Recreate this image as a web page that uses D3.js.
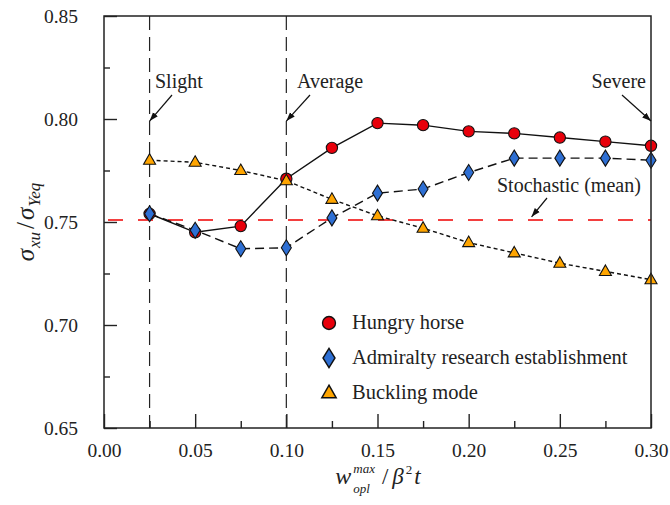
<!DOCTYPE html>
<html>
<head>
<meta charset="utf-8">
<script src="https://cdn.jsdelivr.net/npm/d3@7/dist/d3.min.js"></script>
<style>
  body { margin: 0; background: #fff; }
  svg { display: block; }
  text { font-family: "Liberation Serif", "Times New Roman", serif; fill: #222; }
</style>
</head>
<body>
<script>
// x values (w_opl max / beta^2 t)
const xValues = [0.025, 0.05, 0.075, 0.10, 0.125, 0.15, 0.175, 0.20, 0.225, 0.25, 0.275, 0.30];

// series
const hungryHorse = [0.754, 0.745, 0.748, 0.771, 0.786, 0.798, 0.797, 0.794, 0.793, 0.791, 0.789, 0.787];
const admiralty = [0.754, 0.746, 0.737, 0.7375, 0.752, 0.764, 0.766, 0.774, 0.781, 0.781, 0.781, 0.780];
const buckling = [0.780, 0.779, 0.775, 0.770, 0.761, 0.753, 0.747, 0.740, 0.735, 0.730, 0.726, 0.722];

const stochasticMean = 0.751;
const severityLines = [0.025, 0.10];

const xTicks = [0, 0.05, 0.10, 0.15, 0.20, 0.25, 0.30];
const xMinorTicks = [0.025, 0.075, 0.125, 0.175, 0.225, 0.275];
const yTicks = [0.65, 0.70, 0.75, 0.80, 0.85];
const yMinorTicks = [0.675, 0.725, 0.775, 0.825];

const legendLabels = ["Hungry horse", "Admiralty research establishment", "Buckling mode"];

const FONT = "Liberation Serif, Times New Roman, serif";

// layout
const W = 670, H = 505;
const margin = { top: 16, right: 19, bottom: 77, left: 104 };
const width = W - margin.left - margin.right;
const height = H - margin.top - margin.bottom;

const svg = d3.select("body").append("svg")
  .attr("width", W)
  .attr("height", H);

const defs = svg.append("defs");
defs.append("marker")
  .attr("id", "arrow")
  .attr("viewBox", "0 0 10 10")
  .attr("refX", 10).attr("refY", 5)
  .attr("markerWidth", 9).attr("markerHeight", 9)
  .attr("markerUnits", "userSpaceOnUse")
  .attr("orient", "auto")
  .append("path")
  .attr("d", "M0,1.5 L10,5 L0,8.5 Z")
  .attr("fill", "#111");

const g = svg.append("g")
  .attr("transform", `translate(${margin.left},${margin.top})`);

const x = d3.scaleLinear().domain([0, 0.3]).range([0, width]);
const y = d3.scaleLinear().domain([0.65, 0.85]).range([height, 0]);

// axes, ticks pointing inward
const xAxis = d3.axisBottom(x).tickValues(xTicks).tickSize(-14).tickPadding(15)
  .tickFormat(d3.format(".2f"));
const xAxisMinor = d3.axisBottom(x).tickValues(xMinorTicks).tickSize(-7).tickFormat("");
const yAxis = d3.axisLeft(y).tickValues(yTicks).tickSize(-13).tickPadding(26)
  .tickFormat(d3.format(".2f"));
const yAxisMinor = d3.axisLeft(y).tickValues(yMinorTicks).tickSize(-6).tickFormat("");

function styleAxis(sel) {
  sel.attr("font-family", FONT);
  sel.select(".domain").remove();
  sel.selectAll(".tick line").attr("stroke", "#222").attr("stroke-width", 1.4);
  sel.selectAll(".tick text")
    .attr("font-size", 19.5)
    .style("font-family", FONT)
    .attr("fill", "#222");
}

g.append("g").attr("transform", `translate(0,${height})`).call(xAxis).call(styleAxis);
g.append("g").attr("transform", `translate(0,${height})`).call(xAxisMinor).call(styleAxis);
g.append("g").call(yAxis).call(styleAxis);
g.append("g").call(yAxisMinor).call(styleAxis);

// severity markers (vertical dashed lines)
g.selectAll(".sev")
  .data(severityLines)
  .join("line")
  .attr("x1", d => x(d)).attr("x2", d => x(d))
  .attr("y1", 0).attr("y2", height)
  .attr("stroke", "#222")
  .attr("stroke-width", 1.2)
  .attr("stroke-dasharray", "14,7");

// stochastic mean
g.append("line")
  .attr("x1", 0).attr("x2", width)
  .attr("y1", y(stochasticMean)).attr("y2", y(stochasticMean))
  .attr("stroke", "#f00000")
  .attr("stroke-width", 1.4)
  .attr("stroke-dasharray", "15,15")
  .attr("stroke-dashoffset", -4);

const series = [
  { name: legendLabels[0], values: hungryHorse, color: "#e8000b", dash: null, shape: "circle" },
  { name: legendLabels[1], values: admiralty, color: "#2e6fd3", dash: "9,5", shape: "diamond" },
  { name: legendLabels[2], values: buckling, color: "#ffa500", dash: "4,3", shape: "triangle" }
];

const line = d3.line().x(d => x(d[0])).y(d => y(d[1]));

series.forEach(s => {
  g.append("path")
    .datum(xValues.map((v, i) => [v, s.values[i]]))
    .attr("d", line)
    .attr("fill", "none")
    .attr("stroke", "#111")
    .attr("stroke-width", 1.4)
    .attr("stroke-dasharray", s.dash);
});

// marker shapes
function shapePath(shape) {
  if (shape === "circle") return d3.symbol(d3.symbolCircle, 100)();
  if (shape === "diamond") return "M0,-8 L5,0 L0,8 L-5,0 Z";
  return "M0,-6.5 L6,4 L-6,4 Z";
}

series.forEach(s => {
  g.selectAll(null)
    .data(xValues.map((v, i) => [v, s.values[i]]))
    .join("path")
    .attr("transform", d => `translate(${x(d[0])},${y(d[1])})`)
    .attr("d", shapePath(s.shape))
    .attr("fill", s.color)
    .attr("stroke", "#111")
    .attr("stroke-width", 1.1);
});

// frame
g.append("rect")
  .attr("width", width).attr("height", height)
  .attr("fill", "none")
  .attr("stroke", "#222")
  .attr("stroke-width", 1.5);

// annotations: text position in px, arrow from -> tip (tip in data units)
const annotations = [
  { text: "Slight", tx: 155, ty: 88, anchor: "start", from: [172, 95], tip: [0.025, 0.799] },
  { text: "Average", tx: 297, ty: 88, anchor: "start", from: [310, 95], tip: [0.10, 0.799] },
  { text: "Severe", tx: 646, ty: 88, anchor: "end", from: [622, 95], tip: [0.30, 0.799] },
  { text: "Stochastic (mean)", tx: 497, ty: 192, anchor: "start", from: [547, 198], tip: [0.2345, 0.7525] }
];

annotations.forEach(a => {
  svg.append("text")
    .attr("x", a.tx).attr("y", a.ty)
    .attr("text-anchor", a.anchor)
    .attr("font-size", 20)
    .text(a.text);
  svg.append("line")
    .attr("x1", a.from[0]).attr("y1", a.from[1])
    .attr("x2", x(a.tip[0]) + margin.left).attr("y2", y(a.tip[1]) + margin.top)
    .attr("stroke", "#111")
    .attr("stroke-width", 1.2)
    .attr("marker-end", "url(#arrow)");
});

// legend
const legend = svg.append("g").attr("transform", "translate(329,323)");
series.forEach((s, i) => {
  const row = legend.append("g").attr("transform", `translate(0,${i * 35})`);
  row.append("path")
    .attr("d", shapePath(s.shape))
    .attr("transform", s.shape === "circle" ? "scale(1.15)" : "scale(1.2)")
    .attr("fill", s.color)
    .attr("stroke", "#111")
    .attr("stroke-width", 1.2);
  row.append("text")
    .attr("x", 23).attr("y", 6)
    .attr("font-size", 20.5)
    .text(s.name);
});

// x axis title: w_opl^max / beta^2 t, pieces placed one after another
const xTitle = svg.append("g");
function piece(parent, txt, px, py, size, italic) {
  return parent.append("text")
    .attr("x", px).attr("y", py)
    .attr("font-size", size)
    .attr("font-style", italic ? "italic" : "normal")
    .text(txt);
}
let cx = 0;
const base = 484;
const wEl = piece(xTitle, "w", cx, base, 24, true);
cx += wEl.node().getComputedTextLength() + 2;
const supEl = piece(xTitle, "max", cx, base - 11, 13, true);
const subEl = piece(xTitle, "opl", cx, base + 9, 13, true);
cx += Math.max(supEl.node().getComputedTextLength(), subEl.node().getComputedTextLength()) + 7;
const slEl = piece(xTitle, "/", cx, base, 23, false);
cx += slEl.node().getComputedTextLength() + 4;
const bEl = piece(xTitle, "β", cx, base, 23, true);
cx += bEl.node().getComputedTextLength() + 2;
const twoEl = piece(xTitle, "2", cx, base - 10, 13, false);
cx += twoEl.node().getComputedTextLength() + 2;
const tEl = piece(xTitle, "t", cx, base, 23, true);
cx += tEl.node().getComputedTextLength();
xTitle.attr("transform", `translate(${378 - cx / 2},0)`);

// y axis title: sigma_xu / sigma_Yeq
const yTitle = svg.append("g");
let cy = 0;
const s1 = piece(yTitle, "σ", cy, 0, 25, true);
cy += s1.node().getComputedTextLength() + 1;
const sub1 = piece(yTitle, "xu", cy, 6, 17, true);
cy += sub1.node().getComputedTextLength() + 3;
const sl2 = piece(yTitle, "/", cy, 0, 25, false);
cy += sl2.node().getComputedTextLength() + 2;
const s2 = piece(yTitle, "σ", cy, 0, 25, true);
cy += s2.node().getComputedTextLength() + 1;
const sub2 = piece(yTitle, "Yeq", cy, 6, 17, true);
cy += sub2.node().getComputedTextLength();
yTitle.attr("transform", `translate(34,${222 + cy / 2}) rotate(-90)`);
</script>
</body>
</html>
